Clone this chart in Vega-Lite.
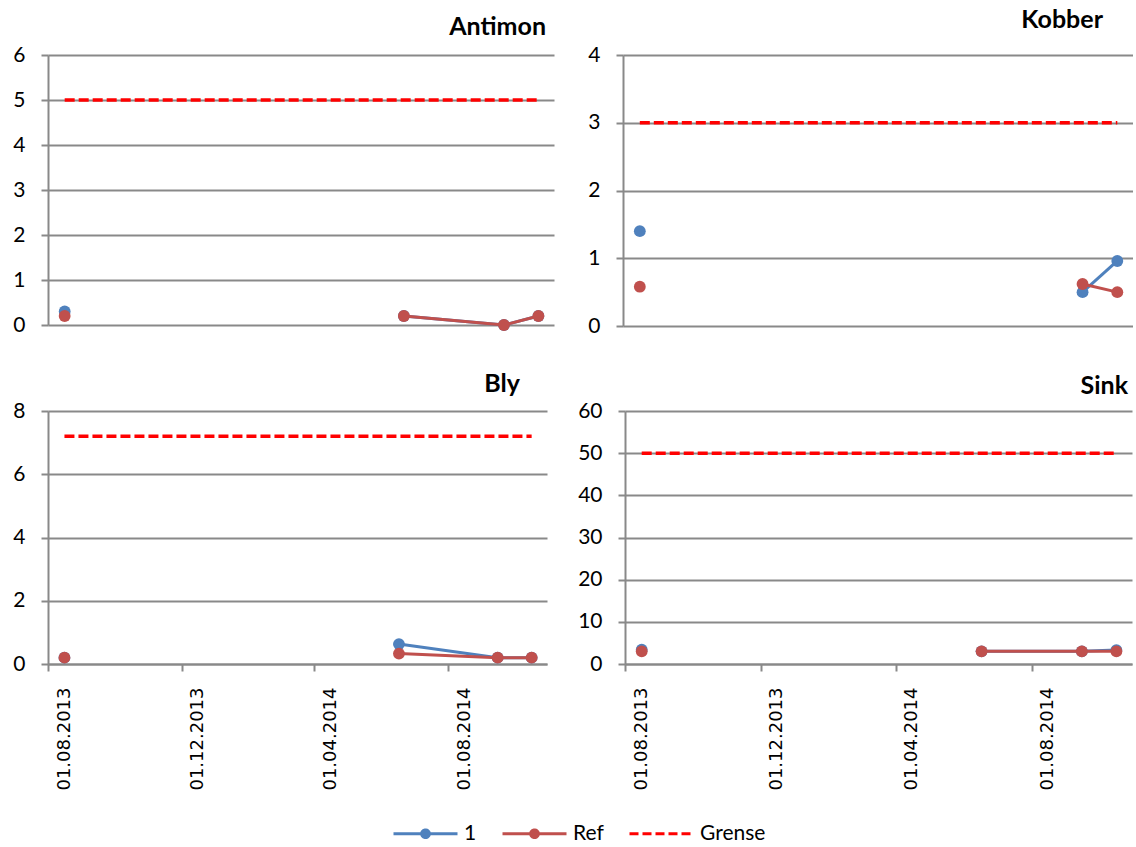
{
  "$schema": "https://vega.github.io/schema/vega-lite/v6.json",
  "padding": {"left": 12, "top": 8, "right": 0, "bottom": 0},
  "background": "white",
  "datasets": {
    "malinger": [
      {"stoff": "Antimon", "serie": "1", "dato": "2013-08-16", "verdi": 0.3, "del": "a"},
      {"stoff": "Antimon", "serie": "1", "dato": "2014-06-17", "verdi": 0.2, "del": "b"},
      {"stoff": "Antimon", "serie": "1", "dato": "2014-09-15", "verdi": 0.0, "del": "b"},
      {"stoff": "Antimon", "serie": "1", "dato": "2014-10-16", "verdi": 0.2, "del": "b"},
      {"stoff": "Antimon", "serie": "Ref", "dato": "2013-08-16", "verdi": 0.2, "del": "a"},
      {"stoff": "Antimon", "serie": "Ref", "dato": "2014-06-17", "verdi": 0.2, "del": "b"},
      {"stoff": "Antimon", "serie": "Ref", "dato": "2014-09-15", "verdi": 0.0, "del": "b"},
      {"stoff": "Antimon", "serie": "Ref", "dato": "2014-10-16", "verdi": 0.2, "del": "b"},
      {"stoff": "Antimon", "serie": "Grense", "dato": "2013-08-16", "verdi": 5, "del": "a"},
      {"stoff": "Antimon", "serie": "Grense", "dato": "2014-06-17", "verdi": 5, "del": "a"},
      {"stoff": "Antimon", "serie": "Grense", "dato": "2014-09-15", "verdi": 5, "del": "a"},
      {"stoff": "Antimon", "serie": "Grense", "dato": "2014-10-16", "verdi": 5, "del": "a"},

      {"stoff": "Kobber", "serie": "1", "dato": "2013-08-16", "verdi": 1.4, "del": "a"},
      {"stoff": "Kobber", "serie": "1", "dato": "2014-09-15", "verdi": 0.5, "del": "b"},
      {"stoff": "Kobber", "serie": "1", "dato": "2014-10-16", "verdi": 0.96, "del": "b"},
      {"stoff": "Kobber", "serie": "Ref", "dato": "2013-08-16", "verdi": 0.58, "del": "a"},
      {"stoff": "Kobber", "serie": "Ref", "dato": "2014-09-15", "verdi": 0.62, "del": "b"},
      {"stoff": "Kobber", "serie": "Ref", "dato": "2014-10-16", "verdi": 0.5, "del": "b"},
      {"stoff": "Kobber", "serie": "Grense", "dato": "2013-08-16", "verdi": 3, "del": "a"},
      {"stoff": "Kobber", "serie": "Grense", "dato": "2014-09-15", "verdi": 3, "del": "a"},
      {"stoff": "Kobber", "serie": "Grense", "dato": "2014-10-16", "verdi": 3, "del": "a"},

      {"stoff": "Bly", "serie": "1", "dato": "2013-08-16", "verdi": 0.2, "del": "a"},
      {"stoff": "Bly", "serie": "1", "dato": "2014-06-17", "verdi": 0.63, "del": "b"},
      {"stoff": "Bly", "serie": "1", "dato": "2014-09-15", "verdi": 0.2, "del": "b"},
      {"stoff": "Bly", "serie": "1", "dato": "2014-10-16", "verdi": 0.2, "del": "b"},
      {"stoff": "Bly", "serie": "Ref", "dato": "2013-08-16", "verdi": 0.2, "del": "a"},
      {"stoff": "Bly", "serie": "Ref", "dato": "2014-06-17", "verdi": 0.33, "del": "b"},
      {"stoff": "Bly", "serie": "Ref", "dato": "2014-09-15", "verdi": 0.2, "del": "b"},
      {"stoff": "Bly", "serie": "Ref", "dato": "2014-10-16", "verdi": 0.2, "del": "b"},
      {"stoff": "Bly", "serie": "Grense", "dato": "2013-08-16", "verdi": 7.2, "del": "a"},
      {"stoff": "Bly", "serie": "Grense", "dato": "2014-06-17", "verdi": 7.2, "del": "a"},
      {"stoff": "Bly", "serie": "Grense", "dato": "2014-09-15", "verdi": 7.2, "del": "a"},
      {"stoff": "Bly", "serie": "Grense", "dato": "2014-10-16", "verdi": 7.2, "del": "a"},

      {"stoff": "Sink", "serie": "1", "dato": "2013-08-16", "verdi": 3.4, "del": "a"},
      {"stoff": "Sink", "serie": "1", "dato": "2014-06-17", "verdi": 3.0, "del": "b"},
      {"stoff": "Sink", "serie": "1", "dato": "2014-09-15", "verdi": 3.0, "del": "b"},
      {"stoff": "Sink", "serie": "1", "dato": "2014-10-16", "verdi": 3.3, "del": "b"},
      {"stoff": "Sink", "serie": "Ref", "dato": "2013-08-16", "verdi": 3.0, "del": "a"},
      {"stoff": "Sink", "serie": "Ref", "dato": "2014-06-17", "verdi": 3.0, "del": "b"},
      {"stoff": "Sink", "serie": "Ref", "dato": "2014-09-15", "verdi": 3.0, "del": "b"},
      {"stoff": "Sink", "serie": "Ref", "dato": "2014-10-16", "verdi": 3.0, "del": "b"},
      {"stoff": "Sink", "serie": "Grense", "dato": "2013-08-16", "verdi": 50, "del": "a"},
      {"stoff": "Sink", "serie": "Grense", "dato": "2014-06-17", "verdi": 50, "del": "a"},
      {"stoff": "Sink", "serie": "Grense", "dato": "2014-09-15", "verdi": 50, "del": "a"},
      {"stoff": "Sink", "serie": "Grense", "dato": "2014-10-16", "verdi": 50, "del": "a"}
    ]
  },
  "data": {"name": "malinger"},
  "vconcat": [
    {
      "hconcat": [
        {
          "width": 506, "height": 270,
          "title": {"text": "Antimon", "anchor": "end", "dx": -8, "offset": 4},
          "transform": [{"filter": "datum.stoff === 'Antimon'"}],
          "encoding": {
            "x": {"field": "dato", "type": "temporal", "scale": {"type": "utc", "domain": [{"year": 2013, "month": 8, "date": 1, "utc": true}, {"year": 2014, "month": 10, "date": 30, "utc": true}]}, "axis": null},
            "y": {"field": "verdi", "type": "quantitative", "scale": {"domain": [0, 6]}, "axis": {"values": [0, 1, 2, 3, 4, 5, 6]}},
            "color": {
              "field": "serie", "type": "nominal",
              "scale": {"domain": ["1", "Ref", "Grense"], "range": ["#4F81BD", "#C0504D", "#FF0000"]},
              "legend": {
                "orient": "none", "legendX": 344, "legendY": 745, "direction": "horizontal", "title": null, "padding": 0,
                "symbolType": "M-1,0L1,0M0.12,0A0.12,0.12,0,1,1,-0.12,0A0.12,0.12,0,1,1,0.12,0Z",
                "symbolSize": 4096, "symbolStrokeWidth": 3,
                "labelFont": "Lato", "labelFontSize": 21, "labelColor": "#000000", "labelOffset": 5, "columnPadding": 19,
                "encode": {
                  "symbols": {
                    "update": {
                      "shape": {"signal": "datum.value === 'Grense' ? 'M-1,0L1,0' : 'M-1,0L1,0M0.12,0A0.12,0.12,0,1,1,-0.12,0A0.12,0.12,0,1,1,0.12,0Z'"},
                      "fill": {"signal": "datum.value === 'Grense' ? 'transparent' : (datum.value === '1' ? '#4F81BD' : '#C0504D')"},
                      "stroke": {"signal": "datum.value === 'Grense' ? '#FF0000' : (datum.value === '1' ? '#4F81BD' : '#C0504D')"},
                      "strokeDash": {"signal": "datum.value === 'Grense' ? [9, 4] : [1, 0]"},
                      "fillOpacity": {"value": 1},
                      "opacity": {"value": 1}
                    }
                  }
                }
              }
            },
            "detail": {"field": "del"}
          },
          "layer": [
            {"transform": [{"filter": "datum.serie === '1'"}], "mark": {"type": "line", "strokeWidth": 3, "point": {"filled": true, "size": 140, "opacity": 1}}},
            {"transform": [{"filter": "datum.serie === 'Ref'"}], "mark": {"type": "line", "strokeWidth": 3, "point": {"filled": true, "size": 140, "opacity": 1}}},
            {"transform": [{"filter": "datum.serie === 'Grense'"}], "mark": {"type": "line", "strokeWidth": 3.5, "strokeDash": [10, 4]}}
          ]
        },
        {
          "width": 510, "height": 271,
          "title": {"text": "Kobber", "anchor": "end", "dx": -30, "offset": 11},
          "transform": [{"filter": "datum.stoff === 'Kobber'"}],
          "encoding": {
            "x": {"field": "dato", "type": "temporal", "scale": {"type": "utc", "domain": [{"year": 2013, "month": 8, "date": 1, "utc": true}, {"year": 2014, "month": 10, "date": 30, "utc": true}]}, "axis": null},
            "y": {"field": "verdi", "type": "quantitative", "scale": {"domain": [0, 4]}, "axis": {"values": [0, 1, 2, 3, 4]}},
            "color": {"field": "serie", "type": "nominal", "scale": {"domain": ["1", "Ref", "Grense"], "range": ["#4F81BD", "#C0504D", "#FF0000"]}},
            "detail": {"field": "del"}
          },
          "layer": [
            {"transform": [{"filter": "datum.serie === '1'"}], "mark": {"type": "line", "strokeWidth": 3, "point": {"filled": true, "size": 140, "opacity": 1}}},
            {"transform": [{"filter": "datum.serie === 'Ref'"}], "mark": {"type": "line", "strokeWidth": 3, "point": {"filled": true, "size": 140, "opacity": 1}}},
            {"transform": [{"filter": "datum.serie === 'Grense'"}], "mark": {"type": "line", "strokeWidth": 3.5, "strokeDash": [10, 4]}}
          ]
        }
      ],
      "spacing": 33
    },
    {
      "hconcat": [
        {
          "width": 499, "height": 253,
          "title": {"text": "Bly", "anchor": "end", "dx": -27, "offset": 3},
          "transform": [{"filter": "datum.stoff === 'Bly'"}],
          "encoding": {
            "x": {
              "field": "dato", "type": "temporal",
              "scale": {"type": "utc", "domain": [{"year": 2013, "month": 8, "date": 1, "utc": true}, {"year": 2014, "month": 10, "date": 30, "utc": true}]},
              "axis": {
                "values": [
                  {"year": 2013, "month": 8, "date": 1, "utc": true},
                  {"year": 2013, "month": 12, "date": 1, "utc": true},
                  {"year": 2014, "month": 4, "date": 1, "utc": true},
                  {"year": 2014, "month": 8, "date": 1, "utc": true}
                ]
              }
            },
            "y": {"field": "verdi", "type": "quantitative", "scale": {"domain": [0, 8]}, "axis": {"values": [0, 2, 4, 6, 8]}},
            "color": {"field": "serie", "type": "nominal", "scale": {"domain": ["1", "Ref", "Grense"], "range": ["#4F81BD", "#C0504D", "#FF0000"]}},
            "detail": {"field": "del"}
          },
          "layer": [
            {"transform": [{"filter": "datum.serie === '1'"}], "mark": {"type": "line", "strokeWidth": 3, "point": {"filled": true, "size": 140, "opacity": 1}}},
            {"transform": [{"filter": "datum.serie === 'Ref'"}], "mark": {"type": "line", "strokeWidth": 3, "point": {"filled": true, "size": 140, "opacity": 1}}},
            {"transform": [{"filter": "datum.serie === 'Grense'"}], "mark": {"type": "line", "strokeWidth": 3.5, "strokeDash": [10, 4]}}
          ]
        },
        {
          "width": 507, "height": 253,
          "title": {"text": "Sink", "anchor": "end", "dx": -4, "offset": 1},
          "transform": [{"filter": "datum.stoff === 'Sink'"}],
          "encoding": {
            "x": {
              "field": "dato", "type": "temporal",
              "scale": {"type": "utc", "domain": [{"year": 2013, "month": 8, "date": 1, "utc": true}, {"year": 2014, "month": 10, "date": 30, "utc": true}]},
              "axis": {
                "values": [
                  {"year": 2013, "month": 8, "date": 1, "utc": true},
                  {"year": 2013, "month": 12, "date": 1, "utc": true},
                  {"year": 2014, "month": 4, "date": 1, "utc": true},
                  {"year": 2014, "month": 8, "date": 1, "utc": true}
                ]
              }
            },
            "y": {"field": "verdi", "type": "quantitative", "scale": {"domain": [0, 60]}, "axis": {"values": [0, 10, 20, 30, 40, 50, 60]}},
            "color": {"field": "serie", "type": "nominal", "scale": {"domain": ["1", "Ref", "Grense"], "range": ["#4F81BD", "#C0504D", "#FF0000"]}},
            "detail": {"field": "del"}
          },
          "layer": [
            {"transform": [{"filter": "datum.serie === '1'"}], "mark": {"type": "line", "strokeWidth": 3, "point": {"filled": true, "size": 140, "opacity": 1}}},
            {"transform": [{"filter": "datum.serie === 'Ref'"}], "mark": {"type": "line", "strokeWidth": 3, "point": {"filled": true, "size": 140, "opacity": 1}}},
            {"transform": [{"filter": "datum.serie === 'Grense'"}], "mark": {"type": "line", "strokeWidth": 3.5, "strokeDash": [10, 4]}}
          ]
        }
      ],
      "spacing": 30
    }
  ],
  "spacing": 36,
  "config": {
    "view": {"stroke": null},
    "font": "Lato",
    "title": {"font": "Lato", "fontSize": 25, "fontWeight": "bold", "color": "#000000"},
    "axis": {
      "gridColor": "#898989", "gridWidth": 2, "gridOpacity": 1,
      "domainColor": "#898989", "domainWidth": 2,
      "tickColor": "#898989", "tickWidth": 2,
      "labelColor": "#000000", "title": null
    },
    "axisY": {
      "grid": true, "ticks": true, "tickSize": 7, "labelPadding": 16,
      "labelFont": "Lato", "labelFontSize": 21, "domain": true
    },
    "axisX": {
      "grid": false, "ticks": true, "tickSize": 7, "domain": true,
      "format": "%d.%m.%Y", "formatType": "utc",
      "labelAngle": -90, "labelAlign": "right", "labelBaseline": "middle",
      "labelOffset": 16, "labelPadding": 16, "labelOverlap": false, "labelFlush": false,
      "labelFont": "DejaVu Sans", "labelFontSize": 18
    }
  }
}
